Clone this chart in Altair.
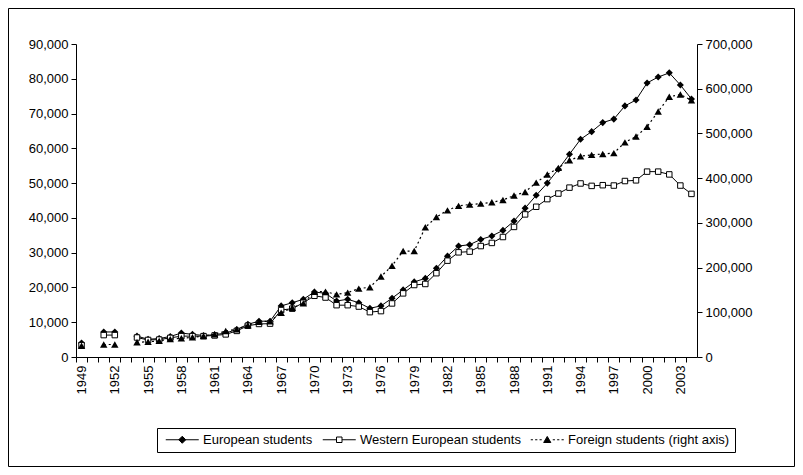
import altair as alt
import pandas as pd

# ---------------- data ----------------
years = [1949, 1951, 1952] + list(range(1954, 2005))

european = [4000, 7200, 7200,
            6000, 5100, 5300, 5900, 6900, 6500, 6200, 6400, 6900, 7900,
            9400, 10300, 10300, 14700, 15600, 16600, 18700, 18300, 16100, 16600,
            15600, 14000, 14700, 16900, 19300, 21600, 22600, 25500, 29000, 31900,
            32300, 33800, 34800, 36400, 39100, 42800, 46500, 50000, 54000, 58300,
            62600, 64800, 67400, 68400, 72200, 73900, 78800, 80500, 81700, 78200,
            74200]

western = [3400, 6300, 6300,
           5600, 4900, 5000, 5500, 6000, 6000, 6000, 6200, 6500, 7500,
           9000, 9500, 9600, 13500, 13900, 15600, 17600, 17100, 14900, 14900,
           14500, 12900, 13200, 15400, 18300, 20700, 21000, 24100, 27700, 30100,
           30300, 31900, 32800, 34500, 37400, 41000, 43200, 45400, 47000, 48700,
           49900, 49200, 49400, 49300, 50600, 50800, 53300, 53300, 52500, 49300,
           46900]

foreign = [25000, 28000, 28000,
           33000, 34000, 36000, 40000, 42000, 44000, 47000, 51000, 58000, 62000,
           71000, 79000, 80000, 99000, 110000, 120000, 146000, 146000, 140000, 144000,
           153000, 156000, 180000, 204000, 237000, 237000, 290000, 313000, 328000, 338000,
           341000, 343000, 346000, 351000, 361000, 369000, 390000, 408000, 423000, 440000,
           449000, 452000, 454000, 456000, 480000, 493000, 515000, 549000, 582000, 587000,
           574000]

series_names = ["European students", "Western European students",
                "Foreign students (right axis)"]
x_tick_years = list(range(1949, 2005))
left_ticks = list(range(0, 90001, 10000))
right_ticks = list(range(0, 700001, 100000))

# ---------------- layout ----------------
W, H = 621, 313
BAND = W / 56.0
FONT = "Liberation Sans"
FS = 13
PAD_L, PAD_T = 68, 36

# path segments (break lines where years are missing)
seg = []
s = 0
for i, yr in enumerate(years):
    if i > 0 and yr - years[i - 1] > 1:
        s += 1
    seg.append(s)

df = pd.DataFrame({"year": years, "seg": seg, "european": european,
                   "western": western, "foreign": foreign})

x_enc = alt.X(
    "year:Q",
    scale=alt.Scale(domain=[1948.5, 2004.5], nice=False, zero=False),
    axis=alt.Axis(
        title=None, values=x_tick_years, grid=False,
        tickOffset=-BAND / 2, labelOffset=BAND / 2,
        labelAngle=270, labelOverlap=False, labelFlush=False, labelBound=False,
        labelExpr="(datum.value - 1949) % 3 == 0 && datum.value < 2004 ? toString(datum.value) : ''",
        tickSize=5, tickColor="black", domainColor="black",
        labelFont=FONT, labelFontSize=FS, labelColor="black", labelPadding=3,
    ),
)

left_scale = alt.Scale(domain=[0, 90000], nice=False, zero=True)
right_scale = alt.Scale(domain=[0, 700000], nice=False, zero=True)

left_axis = alt.Axis(
    title=None, orient="left", values=left_ticks, format=",.0f", grid=False,
    tickSize=5, tickColor="black", domainColor="black",
    labelFont=FONT, labelFontSize=FS, labelColor="black", labelPadding=3,
)
right_axis = alt.Axis(
    title=None, orient="right", values=right_ticks, format=",.0f", grid=False,
    tickSize=5, tickColor="black", domainColor="black",
    labelFont=FONT, labelFontSize=FS, labelColor="black", labelPadding=3,
)

base = alt.Chart(df)

euro_line = base.mark_line(color="black", strokeWidth=1).encode(
    x=x_enc, y=alt.Y("european:Q", scale=left_scale, axis=left_axis), detail="seg:N")
euro_pts = base.mark_point(shape="diamond", filled=True, color="black", size=50, opacity=1).encode(
    x=x_enc, y=alt.Y("european:Q", scale=left_scale, axis=left_axis))

west_line = base.mark_line(color="black", strokeWidth=1).encode(
    x=x_enc, y=alt.Y("western:Q", scale=left_scale, axis=left_axis), detail="seg:N")
west_pts = base.mark_point(shape="square", filled=False, fill="white", stroke="black",
                           strokeWidth=1, size=30, opacity=1).encode(
    x=x_enc, y=alt.Y("western:Q", scale=left_scale, axis=left_axis))

# legend (built-in legend, symbols are custom paths: line + marker)
legend_paths = [
    "M-0.5,0H5.5M2.5,-0.64L3.14,0L2.5,0.64L1.86,0Z",
    "M-0.5,0H2M3,0H5.5M2,-0.5H3V0.5H2Z",
    "M-0.5,0H-0.1M0.3,0H0.7M1.1,0H1.5M3.5,0H3.9M4.3,0H4.7M5.1,0H5.5M2.5,-0.6L3.15,0.5L1.85,0.5Z",
]
legend_fills = ["black", "white", "black"]
legend_strokes = ["black", "black", "black"]


def make_legend():
    return alt.Legend(
        title=None, orient="none", legendX=157 - 8 - PAD_L, legendY=428 - 8 - PAD_T,
        direction="horizontal", columns=3,
        strokeColor="black", fillColor="white", padding=5,
        symbolSize=121, symbolStrokeWidth=1,
        labelFont=FONT, labelFontSize=FS, labelColor="black", labelLimit=0,
        labelOffset=28, columnPadding=6,
    )


legend_df = pd.DataFrame({"series": series_names})
legend_layer = alt.Chart(legend_df).mark_point(
    filled=False, size=121, strokeWidth=1, opacity=1
).encode(
    shape=alt.Shape("series:N", scale=alt.Scale(domain=series_names, range=legend_paths),
                    legend=make_legend()),
    fill=alt.Fill("series:N", scale=alt.Scale(domain=series_names, range=legend_fills),
                  legend=make_legend()),
    stroke=alt.Stroke("series:N", scale=alt.Scale(domain=series_names, range=legend_strokes),
                      legend=make_legend()),
).transform_filter("false")

frame = alt.Chart(pd.DataFrame({"a": [0]})).mark_rect(
    filled=False, stroke="black", strokeWidth=1
).encode(x=alt.value(0.5 - PAD_L), x2=alt.value(786.5 - PAD_L),
         y=alt.value(0.5 - PAD_T), y2=alt.value(458.5 - PAD_T))

left_group = alt.layer(frame, euro_line, west_line, euro_pts, west_pts, legend_layer)

for_line = base.mark_line(color="black", strokeWidth=1.2, strokeDash=[2, 3]).encode(
    x=x_enc, y=alt.Y("foreign:Q", scale=right_scale, axis=right_axis), detail="seg:N")
for_pts = base.mark_point(shape="triangle-up", filled=True, color="black", size=55, opacity=1).encode(
    x=x_enc, y=alt.Y("foreign:Q", scale=right_scale, axis=right_axis))

right_group = alt.layer(for_line, for_pts)

chart = alt.layer(left_group, right_group).resolve_scale(y="independent").properties(
    width=W, height=H,
    autosize=alt.AutoSizeParams(type="none"),
    padding={"left": PAD_L, "top": PAD_T, "right": 787 - PAD_L - W, "bottom": 459 - PAD_T - H},
    background="white",
).configure_view(stroke=None)

chart.save("out.html", embed_options={"renderer": "svg", "actions": False})
